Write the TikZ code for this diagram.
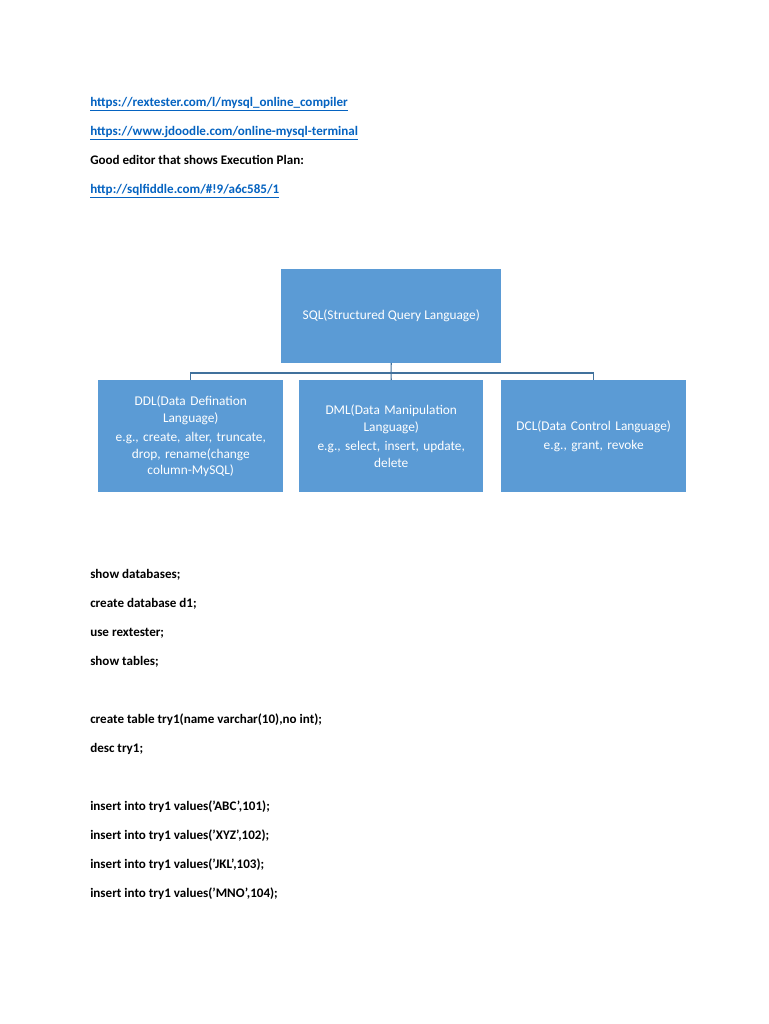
\documentclass[tikz,border=0pt]{standalone}
\usepackage{fontspec}
\setmainfont{Carlito}
\begin{document}
\begin{tikzpicture}[x=0.75pt,y=-0.75pt,
  box/.style={fill=boxblue,draw=none,text=white,align=center,font=\fontsize{10}{12.5}\selectfont,anchor=north west},
  ln/.style={anchor=base west,font=\bfseries\fontsize{9.8}{12}\selectfont,inner sep=0},
  lk/.style={ln,text=linkblue},
  conn/.style={draw=linecol,line width=0.8pt}]
\definecolor{boxblue}{HTML}{5B9BD5}
\definecolor{linecol}{HTML}{41719C}
\definecolor{linkblue}{HTML}{0563C1}
\useasboundingbox (0,0) rectangle (768,1024);
\fill[white] (0,0) rectangle (768,1024);
\node[lk] (l1) at (90,106) {\underline{https://rextester.com/l/mysql\_online\_compiler}};
\node[lk] (l2) at (90,135) {\underline{https://www.jdoodle.com/online-mysql-terminal}};
\node[ln] (l3) at (90,164) {Good editor that shows Execution Plan:};
\node[lk] (l4) at (90,193) {\underline{http://sqlfiddle.com/\#!9/a6c585/1}};
\node[box,minimum width=165pt,minimum height=70pt] (sql) at (281,269) {SQL(Structured Query Language)};
\node[box,minimum width=138.75pt,minimum height=84pt,text width=130pt] (ddl) at (98,380) {DDL(Data Defination\\Language)\\[2pt] e.g., create, alter, truncate,\\drop, rename(change\\column-MySQL)};
\node[box,minimum width=138pt,minimum height=84pt,text width=130pt] (dml) at (299,380) {DML(Data Manipulation\\Language)\\[2pt] e.g., select, insert, update,\\delete};
\node[box,minimum width=138pt,minimum height=84pt,text width=132pt] (dcl) at (501,380) {DCL(Data Control Language)\\[2pt] e.g., grant, revoke};
\coordinate (j) at (391,373);
\draw[conn] (sql.south) -- (j);
\draw[conn] (ddl.north) -- (ddl.north |- j) -- (dcl.north |- j) -- (dcl.north);
\draw[conn] (j) -- (dml.north);
\node[ln] (c1) at (90,578) {show databases;};
\node[ln] (c2) at (90,607) {create database d1;};
\node[ln] (c3) at (90,636) {use rextester;};
\node[ln] (c4) at (90,665) {show tables;};
\node[ln] (c5) at (90,723) {create table try1(name varchar(10),no int);};
\node[ln] (c6) at (90,752) {desc try1;};
\node[ln] (c7) at (90,810) {insert into try1 values('ABC',101);};
\node[ln] (c8) at (90,839) {insert into try1 values('XYZ',102);};
\node[ln] (c9) at (90,868) {insert into try1 values('JKL',103);};
\node[ln] (c10) at (90,897) {insert into try1 values('MNO',104);};
\end{tikzpicture}
\end{document}
